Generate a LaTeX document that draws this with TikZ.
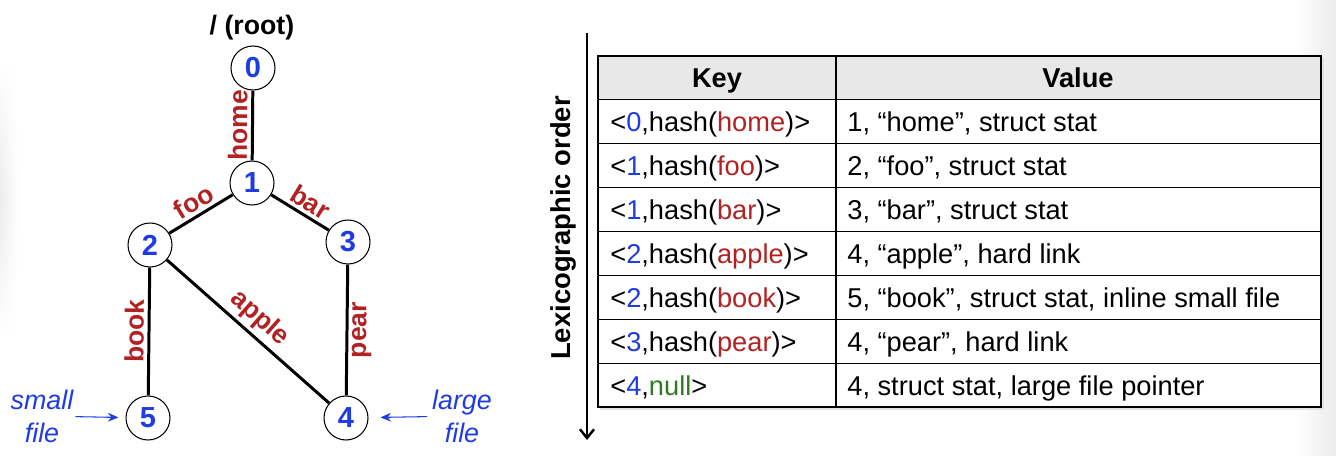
\documentclass[tikz,border=0pt]{standalone}
\usepackage{fontspec}
\setmainfont{Liberation Sans}
\usetikzlibrary{positioning, arrows.meta, fadings}

\definecolor{numblue}{RGB}{30,60,225}
\definecolor{namered}{RGB}{178,34,34}
\definecolor{nullgreen}{RGB}{45,125,30}
\definecolor{headgray}{RGB}{232,232,232}

\tikzfading[name=edgefade, top color=transparent!100, bottom color=transparent!100, middle color=transparent!0]

% key cell: <inode,hash(name)>
\newcommand{\hkey}[2]{<\textcolor{numblue}{#1},hash(\textcolor{namered}{#2})>}

\begin{document}
\begin{tikzpicture}[
  x=0.02cm, y=-0.02cm,
  font=\fontsize{15.5}{18}\selectfont,
  inode/.style={
    circle, draw, line width=0.6pt, minimum size=0.88cm, inner sep=0pt,
    font=\fontsize{16.5}{18}\selectfont\bfseries, text=numblue
  },
  edge/.style={line width=1.7pt},
  elabel/.style={
    sloped, inner sep=2pt, text=namered,
    font=\fontsize{15}{17}\selectfont\bfseries
  },
  note/.style={
    align=center, inner sep=1pt, text=numblue,
    font=\fontsize{15.3}{18.7}\selectfont\itshape
  },
  pointer/.style={-{Stealth[length=6pt, width=5pt]}, draw=numblue, line width=0.6pt},
  cell/.style={anchor=base west, inner sep=0pt},
  head/.style={anchor=base, inner sep=0pt, font=\fontsize{15.5}{18}\selectfont\bfseries},
  orderarrow/.style={-{Straight Barb[length=5pt, width=8pt]}, line width=1.4pt}
]
\useasboundingbox (0,0) rectangle (1336,456);

% slide edges
\shade[left color=gray!16, right color=white, path fading=edgefade] (0,60) rectangle (18,340);
\shade[left color=white, right color=gray!16] (1296,0) rectangle (1336,456);

% tree
\node[font=\fontsize{15.2}{18}\selectfont\bfseries] (rootlabel) at (252,28) {/ (root)};
\node[inode] (n0) at (253,68) {0};
\node[inode] (n1) at (252,183) {1};
\node[inode] (n2) at (150,245) {2};
\node[inode] (n3) at (348,242) {3};
\node[inode] (n5) at (148,418) {5};
\node[inode] (n4) at (346,418) {4};

\draw[edge] (n1) -- node[elabel, above] {home} (n0);
\draw[edge] (n2) -- node[elabel, above] {foo} (n1);
\draw[edge] (n1) -- node[elabel, above, pos=0.55] {bar} (n3);
\draw[edge] (n2) -- node[elabel, above] {apple} (n4);
\draw[edge] (n5) -- node[elabel, above] {book} (n2);
\draw[edge] (n4) -- node[elabel, below] {pear} (n3);

\node[note] (smallnote) at (42,416) {small\\file};
\node[note] (largenote) at (462,416) {large\\file};
\draw[pointer, shorten >=4pt] (smallnote) -- (n5);
\draw[pointer, shorten <=1.7pt, shorten >=6.8pt] (largenote) -- (n4);

% order arrow
\node[rotate=90, font=\fontsize{15.6}{18}\selectfont\bfseries] (lexlabel) at (563,228) {Lexicographic order};
\coordinate (arrtop) at (587,33);
\coordinate (arrbot) at (587,440);
\draw[orderarrow] (arrtop) -- (arrbot);

% table
\fill[gray!22] (600,58) rectangle (1324,410);
\fill[white] (598,56) rectangle (1321,407);
\fill[headgray] (598,56) rectangle (1321,100);
\foreach \r in {1,...,7}
  \draw[line width=0.6pt] (598,{56+43.875*\r}) -- (1321,{56+43.875*\r});
\draw[line width=0.6pt] (836,56) -- (836,407);
\draw[line width=0.9pt] (598,56) rectangle (1321,407);

\node[head] (keyhead) at (717,88) {Key};
\node[head] (valhead) at (1078,88) {Value};

\foreach \i/\k/\v in {
  1/{\hkey{0}{home}}/{1, “home”, struct stat},
  2/{\hkey{1}{foo}}/{2, “foo”, struct stat},
  3/{\hkey{1}{bar}}/{3, “bar”, struct stat},
  4/{\hkey{2}{apple}}/{4, “apple”, hard link},
  5/{\hkey{2}{book}}/{5, “book”, struct stat, inline small file},
  6/{\hkey{3}{pear}}/{4, “pear”, hard link},
  7/{<\textcolor{numblue}{4},\textcolor{nullgreen}{null}>}/{4, struct stat, large file pointer}
}{
  \node[cell] (key\i) at (610,{56+43.875*\i+32}) {\k};
  \node[cell] (val\i) at (847,{56+43.875*\i+32}) {\v};
}

\end{tikzpicture}
\end{document}
